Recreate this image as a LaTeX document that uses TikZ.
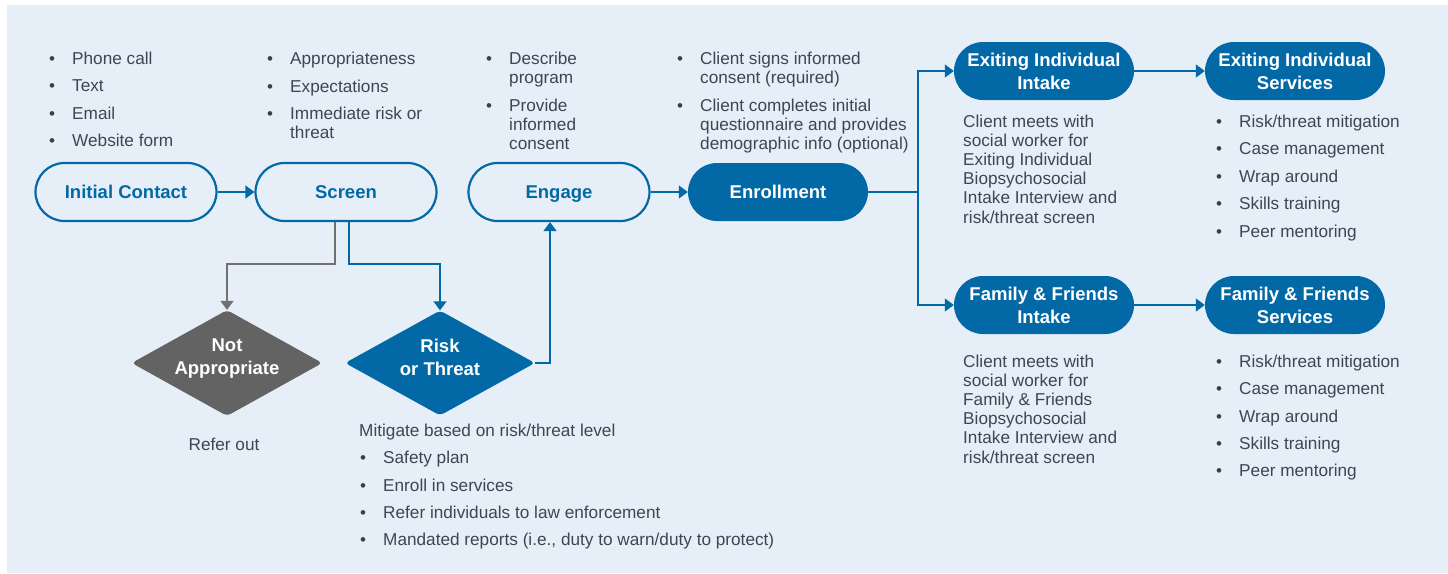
\documentclass[tikz,border=0pt]{standalone}
\usepackage{fontspec}
\setmainfont{Liberation Sans}
\usetikzlibrary{shapes.geometric,arrows.meta}
\definecolor{bgc}{RGB}{230,239,247}
\definecolor{bluec}{RGB}{3,105,166}
\definecolor{grayc}{RGB}{99,99,99}
\definecolor{glinec}{RGB}{112,112,112}
\definecolor{txtc}{RGB}{61,71,83}
\newcommand\lblfont{\fontsize{18.5}{23}\selectfont\bfseries}
\newcommand\txtfont{\fontsize{17.2}{19.2}\selectfont}
% name, x, first baseline, number of extra lines, text
\newcommand\bitem[5]{%
  \node[bul] (#1b) at (#2,#3) {\textbullet};
  \node[txt] (#1) at (#2+20,#3+#4*19.2) {#5};}
\begin{document}
\begin{tikzpicture}[x=1pt,y=-1pt,
  pillo/.style={draw=bluec, line width=2.2pt, fill=bgc, rounded corners=29pt,
    minimum width=181pt, minimum height=58pt, inner sep=0pt, text=bluec,
    font=\lblfont, align=center},
  pillf/.style={fill=bluec, draw=none, rounded corners=29pt,
    minimum width=180pt, minimum height=58pt, inner sep=0pt, text=white,
    font=\lblfont, align=center},
  dia/.style={shape=diamond, aspect=1.8, minimum width=190pt, minimum height=105pt,
    inner sep=0pt, rounded corners=4pt, text=white, font=\lblfont, align=center,
    text depth=12pt},
  txt/.style={anchor=base west, inner sep=0pt, text=txtc, font=\txtfont, align=left},
  bul/.style={anchor=base, inner sep=0pt, text=txtc!90!black, font=\fontsize{17}{17}\selectfont},
  conn/.style={draw=bluec, line width=1.5pt},
  arr/.style={conn, -{Triangle[length=9pt,width=13pt]}},
  garr/.style={draw=glinec, line width=1.5pt, -{Triangle[length=9pt,width=13pt]}}
]
\useasboundingbox (0,0) rectangle (1448,573);
\fill[white] (0,0) rectangle (1448,573);
\fill[bgc] (7,5) rectangle (1448,573);

% main nodes
\node[pillo] (ic) at (126,192) {Initial Contact};
\node[pillo] (sc) at (346,192) {Screen};
\node[pillo, text depth=0pt] (en) at (559,192) {Engage};
\node[pillf] (er) at (778,192) {Enrollment};
\node[pillf] (exi) at (1044,71) {Exiting Individual\\Intake};
\node[pillf] (exs) at (1295,71) {Exiting Individual\\Services};
\node[pillf] (ffi) at (1044,305) {Family \& Friends\\Intake};
\node[pillf] (ffs) at (1295,305) {Family \& Friends\\Services};
\node[dia, fill=grayc] (na) at (227,363) {Not\\Appropriate};
\node[dia, fill=bluec] (rt) at (440,363) {Risk\\or Threat};

% connectors
\draw[arr] (ic) -- (sc);
\draw[garr] ([xshift=-11pt]sc.south) -- ++(0,42) -| (na.north);
\draw[arr] ([xshift=3pt]sc.south) -- ++(0,42) -| (rt.north);
\draw[arr] (rt.east) -| ([xshift=-9pt]en.south);
\draw[arr] (en) -- (er);
\coordinate (split) at (918,192);
\draw[conn] (er.east) -- (split);
\draw[arr] (split) |- (exi.west);
\draw[arr] (split) |- (ffi.west);
\draw[arr] (exi) -- (exs);
\draw[arr] (ffi) -- (ffs);

% texts: initial contact
\bitem{ica}{52}{64}{0}{Phone call}
\bitem{icb}{52}{91.5}{0}{Text}
\bitem{icc}{52}{119}{0}{Email}
\bitem{icd}{52}{146}{0}{Website form}
% screen
\bitem{sca}{270}{64}{0}{Appropriateness}
\bitem{scb}{270}{92}{0}{Expectations}
\bitem{scc}{270}{119}{1}{Immediate risk or\\threat}
% engage
\bitem{ena}{489}{64}{1}{Describe\\program}
\bitem{enb}{489}{111}{2}{Provide\\informed\\consent}
% enrollment
\bitem{era}{680}{64}{1}{Client signs informed\\consent (required)}
\bitem{erb}{680}{111}{2}{Client completes initial\\questionnaire and provides\\demographic info (optional)}
% exiting individual
\node[txt] (exid) at (963,127+5*19.2) {Client meets with\\social worker for\\Exiting Individual\\Biopsychosocial\\Intake Interview and\\risk/threat screen};
\bitem{exsa}{1219}{127}{0}{Risk/threat mitigation}
\bitem{exsb}{1219}{154}{0}{Case management}
\bitem{exsc}{1219}{182}{0}{Wrap around}
\bitem{exsd}{1219}{209}{0}{Skills training}
\bitem{exse}{1219}{237}{0}{Peer mentoring}
% family & friends
\node[txt] (ffid) at (963,367+5*19.2) {Client meets with\\social worker for\\Family \& Friends\\Biopsychosocial\\Intake Interview and\\risk/threat screen};
\bitem{ffsa}{1219}{367}{0}{Risk/threat mitigation}
\bitem{ffsb}{1219}{394}{0}{Case management}
\bitem{ffsc}{1219}{422}{0}{Wrap around}
\bitem{ffsd}{1219}{449}{0}{Skills training}
\bitem{ffse}{1219}{476}{0}{Peer mentoring}
% refer out / mitigate
\node[txt, anchor=base] (ro) at (224,450) {Refer out};
\node[txt] (mit) at (359,436) {Mitigate based on risk/threat level};
\bitem{mia}{363}{463}{0}{Safety plan}
\bitem{mib}{363}{491}{0}{Enroll in services}
\bitem{mic}{363}{518}{0}{Refer individuals to law enforcement}
\bitem{mid}{363}{545}{0}{Mandated reports (i.e., duty to warn/duty to protect)}
\end{tikzpicture}
\end{document}
